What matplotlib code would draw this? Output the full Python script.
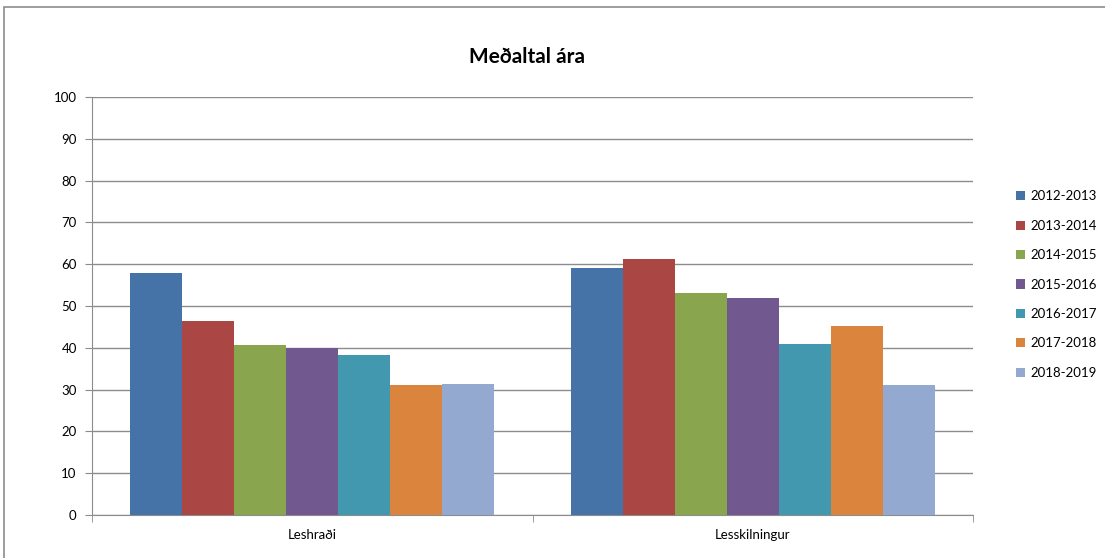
import matplotlib.pyplot as plt
import numpy as np
from matplotlib.patches import Rectangle

plt.rcParams['font.family'] = ['Lato', 'DejaVu Sans']

categories = ["Leshraði", "Lesskilningur"]
years = ["2012-2013", "2013-2014", "2014-2015", "2015-2016", "2016-2017", "2017-2018", "2018-2019"]
leshradi = [58, 46.5, 40.7, 39.9, 38.2, 31.1, 31.4]
lesskilningur = [59, 61.2, 53.1, 51.9, 40.9, 45.2, 31.1]
colors = ["#4572A7", "#AA4643", "#89A54E", "#71588F", "#4198AF", "#DB843D", "#93A9CF"]

fig = plt.figure(figsize=(11.05, 5.58), dpi=100)
ax = fig.add_axes([92/1105, 1-515/558, (973-92)/1105, (515-97)/558])

# outer chart frame
fig.patches.append(Rectangle((4/1105, -0.05), 1.1, 1-7/558+0.05, transform=fig.transFigure,
                             fill=False, edgecolor="#8c8c8c", linewidth=1.2))

x = np.arange(len(categories))
w = 0.118
for i in range(len(years)):
    vals = [leshradi[i], lesskilningur[i]]
    ax.bar(x + (i - 3) * w, vals, width=w, color=colors[i], label=years[i], zorder=3)

ax.set_xlim(-0.5, 1.5)
ax.set_ylim(0, 100)
ax.set_yticks(range(0, 101, 10))
ax.yaxis.grid(True, color="#8c8c8c", linewidth=1, zorder=0)
ax.set_xticks(x)
ax.set_xticklabels(categories, fontsize=9.5)
ax.tick_params(axis="x", length=0, pad=10)
ax.set_xticks([-0.5, 0.5, 1.5], minor=True)
ax.tick_params(axis="x", which="minor", length=5, color="#8c8c8c", direction="out")
ax.tick_params(axis="y", length=5, color="#8c8c8c", labelsize=9.5, pad=6)
for s in ["top", "right"]:
    ax.spines[s].set_visible(False)
ax.spines["left"].set_color("#8c8c8c")
ax.spines["bottom"].set_color("#8c8c8c")

fig.text(527/1105, 1-57/558, "Meðaltal ára", ha="center", va="center", fontsize=15, fontweight="bold")

ax.legend(loc="upper left", bbox_to_anchor=(1.035, 0.805), frameon=False, fontsize=9.5,
          handlelength=0.7, handleheight=0.7, handletextpad=0.4, labelspacing=1.32)

fig.savefig("out.png", dpi=100)
